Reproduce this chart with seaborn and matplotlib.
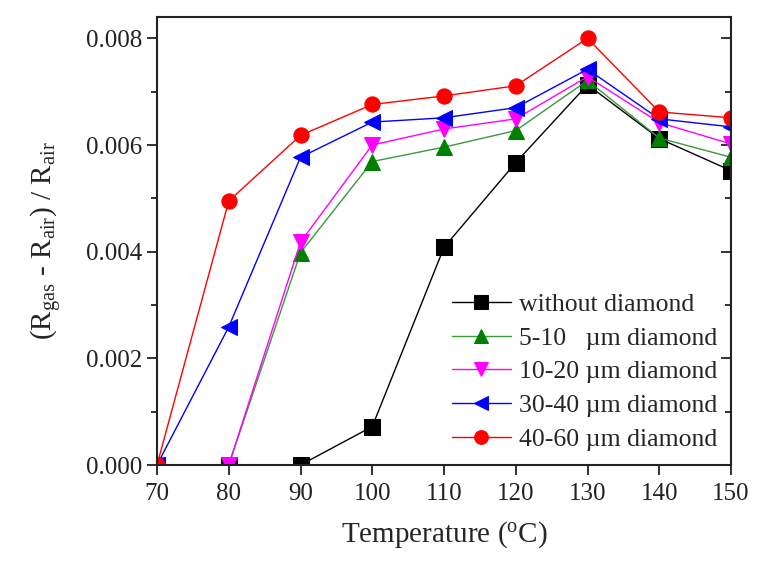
import matplotlib
matplotlib.use("Agg")
import matplotlib.pyplot as plt
import seaborn as sns
import numpy as np
from matplotlib.ticker import MultipleLocator

temperature = [70, 80, 90, 100, 110, 120, 130, 140, 150]
without_diamond = [0.0, 0.0, 0.0, 0.00072, 0.00408, 0.00567, 0.00713, 0.00612, 0.00552]
d_5_10 = [0.0, 0.0, 0.00398, 0.00569, 0.00596, 0.00627, 0.00721, 0.00613, 0.00577]
d_10_20 = [0.0, 0.0, 0.00418, 0.00600, 0.00630, 0.00649, 0.00728, 0.00642, 0.00602]
d_30_40 = [0.0, 0.00259, 0.00577, 0.00643, 0.00651, 0.00670, 0.00742, 0.00649, 0.00634]
d_40_60 = [0.0, 0.00495, 0.00618, 0.00676, 0.00692, 0.00711, 0.00800, 0.00662, 0.00651]

labels = ["without diamond", "5-10   \u00b5m diamond", "10-20 \u00b5m diamond",
          "30-40 \u00b5m diamond", "40-60 \u00b5m diamond"]
series = [without_diamond, d_5_10, d_10_20, d_30_40, d_40_60]
line_colors = ["#000000", "#3a9a3a", "#ff00ff", "#0000ff", "#ff0000"]
marker_colors = ["#000000", "#008000", "#ff00ff", "#0000ff", "#ff0000"]
markers = ["s", "^", "v", "<", "o"]

sns.set_style("ticks")
plt.rcParams['font.family'] = ['Liberation Serif', 'DejaVu Serif']
plt.rcParams['mathtext.fontset'] = 'custom'
plt.rcParams['mathtext.rm'] = 'Liberation Serif'
plt.rcParams['mathtext.it'] = 'Liberation Serif:italic'

fig = plt.figure(figsize=(7.79, 5.66), dpi=100)
ax = fig.add_axes([157/779, 1 - 465/566, (731 - 157)/779, (465 - 17)/566])

for vals, lab, lc, mc, mk in zip(series, labels, line_colors, marker_colors, markers):
    sns.lineplot(x=temperature, y=vals, ax=ax, color=lc, linewidth=1.0,
                 marker=mk, markersize=11, markerfacecolor=mc, markeredgecolor=mc,
                 label=lab)

ax.set_xlim(70, 150)
ax.set_ylim(0, 0.0084)
ax.set_xticks(temperature)
ax.yaxis.set_major_locator(MultipleLocator(0.002))
ax.yaxis.set_minor_locator(MultipleLocator(0.001))
ax.set_yticklabels([f"{v:.3f}" for v in ax.get_yticks()])
ax.tick_params(axis='both', which='major', labelsize=18, direction='out', length=7, width=1.3, colors='#222222')
ax.tick_params(axis='y', which='minor', direction='out', length=4, width=1.3, colors='#222222')
ax.tick_params(axis='x', which='major', pad=6)

# right-side inward ticks
ay = ax.secondary_yaxis('right')
ay.yaxis.set_major_locator(MultipleLocator(0.002))
ay.yaxis.set_minor_locator(MultipleLocator(0.001))
ay.tick_params(which='major', direction='in', length=7, width=1.3, labelright=False, colors='#222222')
ay.tick_params(which='minor', direction='in', length=4, width=1.3, colors='#222222')
ay.spines['right'].set_visible(False)

for sp in ax.spines.values():
    sp.set_linewidth(1.5)
    sp.set_color('#222222')

ax.set_xlabel(r"Temperature ($^{\mathregular{o}}$C)", fontsize=21, labelpad=10)
ax.set_ylabel(r"(R$_{\mathregular{gas}}$ - R$_{\mathregular{air}}$) / R$_{\mathregular{air}}$", fontsize=21, labelpad=16)

leg = ax.legend(loc='lower right', frameon=False, fontsize=18.5, handlelength=2.3,
                handletextpad=0.3, labelspacing=0.42, borderaxespad=0.15,
                markerscale=0.9)

fig.savefig("out.png", dpi=100, facecolor='white')
